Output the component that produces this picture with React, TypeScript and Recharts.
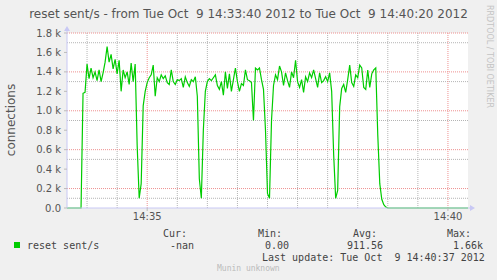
import { LineChart, Line, XAxis, YAxis, CartesianGrid } from "recharts";

// reset sent/s, one sample every 2 s starting 14:33:40
const STEP = 2;
const resetSent = [
  0, 0, 0, 0, 0, 0, 0, 0,
  1180, 1190, 1480, 1330, 1440, 1340, 1400, 1310, 1420, 1300, 1390, 1500, 1660, 1500, 1580, 1430,
  1530, 1380, 1520, 1200, 1420, 1340, 1400, 1270, 1490, 1300, 1480, 640, 100, 250, 1050, 1200,
  1290, 1340, 1370, 1470, 1150, 1340, 1300, 1370, 1330, 1360, 1290, 1270, 1420, 1300, 1270,
  1320, 1310, 1330, 1240, 1350, 1290, 1250, 1320, 1300, 1350, 1150, 300, 100, 800, 1200,
  1300, 1330, 1310, 1340, 1370, 1260, 1220, 1300, 1160, 1400, 1230, 1380, 1200, 1320, 1440,
  1300, 1200, 1280, 1260, 1420, 1320, 1310, 1290, 900, 1440, 1420, 1440, 1320, 1220, 800,
  150, 100, 900, 1260, 1370, 1320, 1460, 1400, 1260, 1390, 1310, 1240, 1400, 1340, 1520,
  1300, 1240, 1320, 1190, 1350, 1300, 1390, 1340, 1420, 1330, 1240, 1390, 1290, 1310, 1350,
  1300, 1390, 1200, 550, 100, 180, 1040, 1230, 1270, 1190, 1320, 1470, 1290, 1250, 1370,
  1340, 1470, 1440, 1240, 1220, 1420, 1240, 1380, 1420, 1440, 750, 250, 90, 35, 10,
  0, 0, 0, 0, 0, 0, 0, 0, 0, 0, 0, 0, 0, 0, 0, 0, 0, 0, 0, 0,
  0, 0, 0, 0, 0, 0, 0, 0, 0, 0, 0, 0, 0, 0, 0, 0, 0, 0, 0, 0, 0,
];

const timeTicks = [80, 380];
const timeLabels = ["14:35", "14:40"];
const minorTimes = [20, 50, 110, 140, 170, 200, 230, 260, 290, 320, 350];
const valueTicks = [0, 200, 400, 600, 800, 1000, 1200, 1400, 1600, 1800];
const minorValues = [100, 300, 500, 700, 900, 1100, 1300, 1500, 1700];

const data = resetSent.map((v, i) => ({ t: i * STEP, v }));

const sans = "'DejaVu Sans', sans-serif";
const mono = "'DejaVu Sans Mono', monospace";
const axisColor = "#c8c8f4";

const fmtValue = (v: number) => (v === 0 ? "0.0" : (v / 1000).toFixed(1) + " k");
const fmtTime = (t: number) => timeLabels[timeTicks.indexOf(t)] ?? "";

function XArrow(props: any) {
  const { x, y, width } = props.viewBox;
  const e = x + width;
  return (
    <g>
      <line x1={e} y1={y} x2={e + 3} y2={y} stroke={axisColor} />
      <polygon points={`${e + 2},${y - 3} ${e + 7},${y} ${e + 2},${y + 3}`} fill={axisColor} />
    </g>
  );
}

function YArrow(props: any) {
  const { x, y, width } = props.viewBox;
  const a = x + width;
  return (
    <g>
      <line x1={a} y1={y} x2={a} y2={y - 3} stroke={axisColor} />
      <polygon points={`${a - 3},${y - 2} ${a},${y - 7} ${a + 3},${y - 2}`} fill={axisColor} />
    </g>
  );
}

const txt = (left: number, top: number, s: string, extra: any = {}) => (
  <div
    style={{
      position: "absolute", left, top, fontFamily: mono, fontSize: 10, lineHeight: "12px",
      color: "#444", whiteSpace: "pre", ...extra,
    }}
  >
    {s}
  </div>
);

export default function App() {
  return (
    <div style={{ position: "absolute", left: 0, top: 0, width: 497, height: 280, background: "#f0f0f0", overflow: "hidden" }}>
      <LineChart width={497} height={280} data={data} margin={{ top: 33, right: 29, bottom: 42, left: 7 }}>
        <CartesianGrid horizontal={false} vertical={false} fill="#ffffff" />
        <CartesianGrid
          horizontalValues={minorValues}
          verticalValues={minorTimes}
          stroke="#b4b4b4"
          strokeDasharray="1 1"
        />
        <CartesianGrid
          horizontalValues={valueTicks.slice(1)}
          verticalValues={timeTicks}
          stroke="#ee9090"
          strokeDasharray="1 1"
        />
        <XAxis
          type="number"
          dataKey="t"
          domain={[0, 400]}
          ticks={timeTicks}
          tickFormatter={fmtTime}
          axisLine={{ stroke: axisColor }}
          tickLine={{ stroke: "#bbbbbb" }}
          tickSize={3}
          tickMargin={2}
          tick={{ fontSize: 10, fill: "#555", fontFamily: sans }}
          height={30}
          label={{ content: XArrow }}
        />
        <YAxis
          type="number"
          domain={[0, 1800]}
          ticks={valueTicks}
          tickFormatter={fmtValue}
          axisLine={{ stroke: axisColor }}
          tickLine={{ stroke: "#bbbbbb" }}
          tickSize={3}
          tickMargin={3}
          tick={{ fontSize: 10, fill: "#555", fontFamily: sans }}
          width={60}
          label={{ content: YArrow }}
        />
        <Line
          type="linear"
          dataKey="v"
          stroke="#00cc00"
          strokeWidth={1.2}
          dot={false}
          isAnimationActive={false}
        />
      </LineChart>

      <div
        style={{
          position: "absolute", left: 0, top: 6, width: 497, textAlign: "center", fontFamily: sans,
          fontSize: 12, lineHeight: "16px", color: "#555", whiteSpace: "pre",
        }}
      >
        {"reset sent/s - from Tue Oct  9 14:33:40 2012 to Tue Oct  9 14:40:20 2012"}
      </div>
      <div
        style={{
          position: "absolute", left: 11, top: 120, transform: "translate(-50%, -50%) rotate(-90deg)",
          fontFamily: sans, fontSize: 12, color: "#555", whiteSpace: "nowrap",
        }}
      >
        connections
      </div>
      <div
        style={{
          position: "absolute", left: 485, top: 5, writingMode: "vertical-rl", fontFamily: sans,
          fontSize: 8, lineHeight: "8px", color: "#c4c4c4", whiteSpace: "nowrap",
        }}
      >
        RRDTOOL / TOBI OETIKER
      </div>

      <div style={{ position: "absolute", left: 14, top: 242, width: 6, height: 6, background: "#00cc00" }} />
      {txt(27, 240, "reset sent/s")}
      {txt(163, 228, "Cur:")}
      {txt(170, 240, "-nan")}
      {txt(258, 228, "Min:")}
      {txt(265, 240, "0.00")}
      {txt(353, 228, "Avg:")}
      {txt(347, 240, "911.56")}
      {txt(447, 228, "Max:")}
      {txt(453, 240, "1.66k")}
      {txt(262, 252, "Last update: Tue Oct  9 14:40:37 2012")}
      {txt(217, 263, "Munin unknown", { fontSize: 8, color: "#bbbbbb" })}
    </div>
  );
}
